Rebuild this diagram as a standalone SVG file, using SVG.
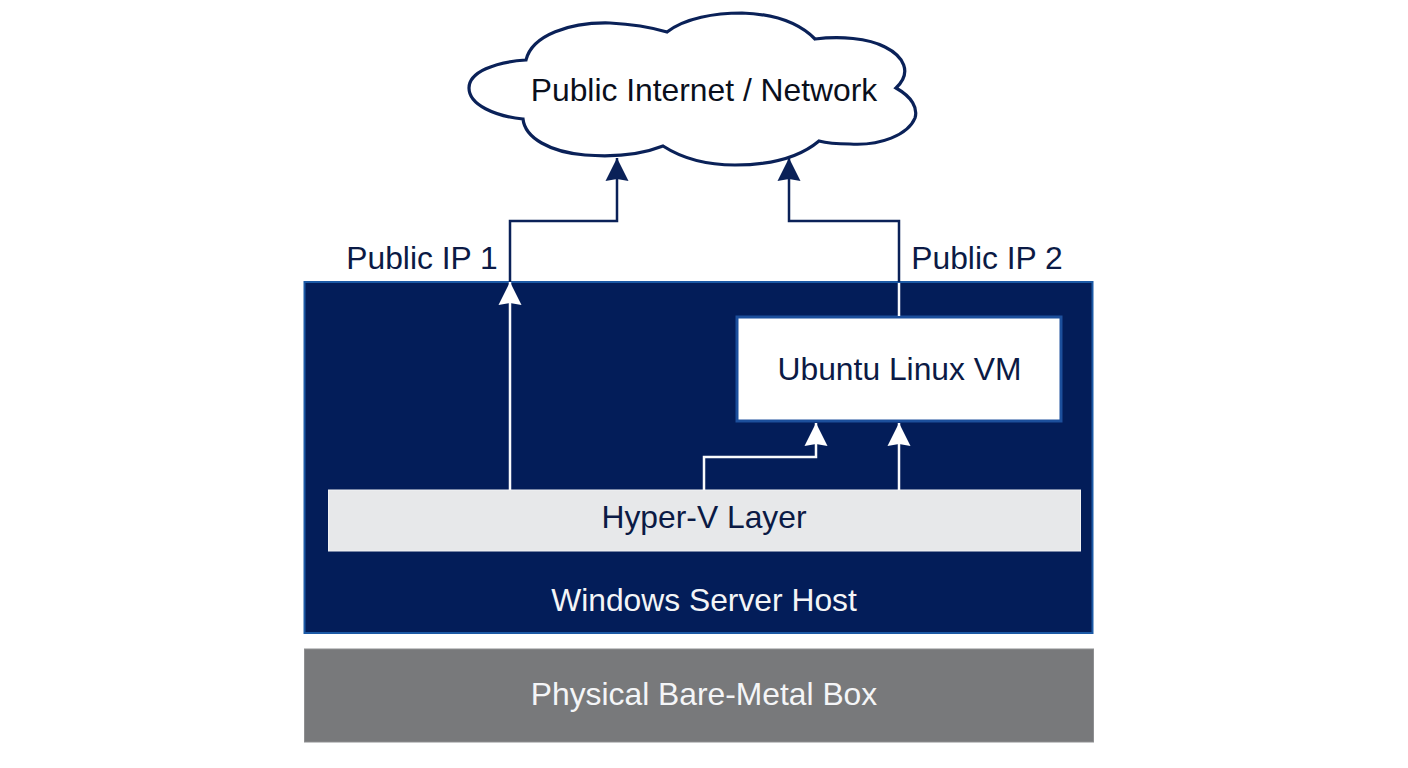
<svg xmlns="http://www.w3.org/2000/svg" width="1408" height="768" viewBox="0 0 1408 768">
<style>
text{font-family:"Liberation Sans",Arial,sans-serif;font-size:31.800px;text-anchor:middle}
.navy{fill:#0b1a45}
.light{fill:#f4f5f7}
.wl{fill:none;stroke:#fafbfc;stroke-width:2.5}
.nl{fill:none;stroke:#0a2158;stroke-width:2.500}
</style>
<defs>
<marker id="hn" markerUnits="userSpaceOnUse" markerWidth="24" markerHeight="24" refX="23" refY="12" orient="auto"><path d="M0 0.500L23 12L0 23.500L2 12Z" fill="#0a2158"/></marker>
<marker id="hw" markerUnits="userSpaceOnUse" markerWidth="24" markerHeight="24" refX="23" refY="12" orient="auto"><path d="M0 0.500L23 12L0 23.500L2 12Z" fill="#fff"/></marker>
</defs>
<rect width="1408" height="768" fill="#fff"/>
<g id="physical">
<rect x="304.500" y="649" width="789" height="93" fill="#78797b" stroke="#8e8f91"/>
<text x="704" y="705" class="light">Physical Bare-Metal Box</text>
</g>
<g id="host">
<rect x="304.500" y="282" width="788" height="351" fill="#031d59" stroke="#1c5aa6" stroke-width="2"/>
<text x="704" y="611" class="light">Windows Server Host</text>
</g>
<g id="vm">
<rect x="737" y="317" width="324" height="104" fill="#fff" stroke="#1c4f9c" stroke-width="3"/>
<text x="899.500" y="380" class="navy">Ubuntu Linux VM</text>
</g>
<g id="hyperv">
<rect x="328.500" y="490" width="752" height="61" fill="#e7e8ea" stroke="#f1f2f4"/>
<text x="704" y="528" class="navy">Hyper-V Layer</text>
</g>
<g id="cloud">
<path d="M526 60C532 35 570 22 610 23C630 24 650 27 667 32C685 18 715 13 742 13C775 14 800 24 815 39C840 36 868 38 885 47C903 56 913 72 896 88C912 97 918 108 915 118C908 135 880 146 850 144C838 144 826 143 819 141C800 157 770 165 735 165C705 165 680 157 663 146C640 155 610 157 585 155C550 152 525 138 523 119C495 116 469 105 469 88C469 72 495 62 526 60Z" fill="#fff" stroke="#0a2158" stroke-width="3.200"/>
<text x="704" y="101" fill="#0a0f1c">Public Internet / Network</text>
</g>
<g id="connectors">
<path class="nl" d="M510 282V221H617V158" marker-end="url(#hn)"/>
<path class="nl" d="M899 282V221H789V158" marker-end="url(#hn)"/>
<path class="wl" d="M510 490V282" marker-end="url(#hw)"/>
<path class="wl" d="M899 316V283"/>
<path class="wl" d="M704 490V457H816V423" marker-end="url(#hw)"/>
<path class="wl" d="M899 490V423" marker-end="url(#hw)"/>
</g>
<g id="labels">
<text x="422" y="269" class="navy">Public IP 1</text>
<text x="987" y="269" class="navy">Public IP 2</text>
</g>
</svg>
